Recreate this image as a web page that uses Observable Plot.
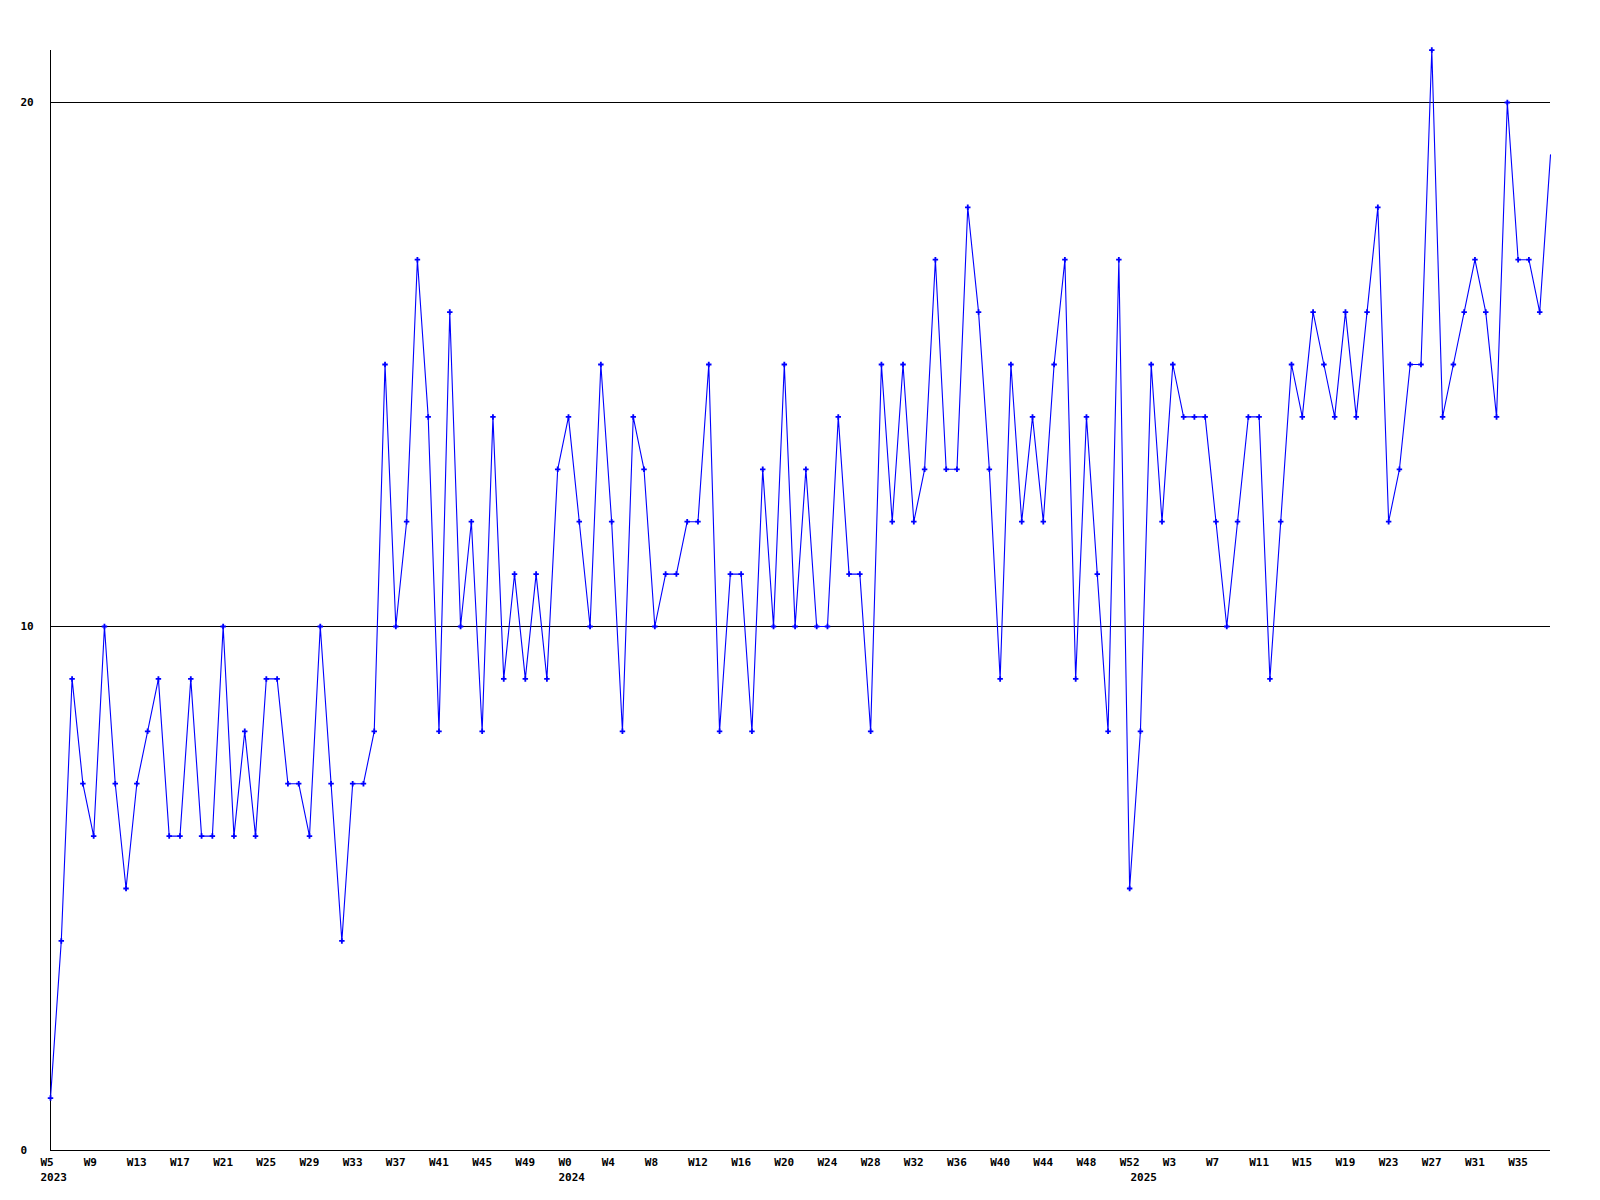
<!DOCTYPE html>
<html>
<head>
<meta charset="utf-8">
<script src="https://cdn.jsdelivr.net/npm/d3@7"></script>
<script src="https://cdn.jsdelivr.net/npm/@observablehq/plot@0.6"></script>
<style>
  html, body { margin: 0; padding: 0; background: #ffffff; }
  #chart svg { display: block; }
</style>
</head>
<body>
<div id="chart"></div>
<script>
// ---- data ----
const weeks2023 = [5,6,7,8,9,10,11,12,13,14,15,16,17,18,19,20,21,22,23,24,25,26,27,28,29,30,31,32,33,34,35,36,37,38,39,40,41,42,43,44,45,46,47,48,49,50,51,52];
const values2023 = [1,4,9,7,6,10,7,5,7,8,9,6,6,9,6,6,10,6,8,6,9,9,7,7,6,10,7,4,7,7,8,15,10,12,17,14,8,16,10,12,8,14,9,11,9,11,9,13];

const weeks2024 = [0,1,2,3,4,5,6,7,8,9,10,11,12,13,14,15,16,17,18,19,20,21,22,23,24,25,26,27,28,29,30,31,32,33,34,35,36,37,38,39,40,41,42,43,44,45,46,47,48,49,50,51,52];
const values2024 = [14,12,10,15,12,8,14,13,10,11,11,12,12,15,8,11,11,8,13,10,15,10,13,10,10,14,11,11,8,15,12,15,12,13,17,13,13,18,16,13,9,15,12,14,12,15,17,9,14,11,8,17,5];

const weeks2025 = [0,1,2,3,4,5,6,7,8,9,10,11,12,13,14,15,16,17,18,19,20,21,22,23,24,25,26,27,28,29,30,31,32,33,34,35,36,37,38];
const values2025 = [8,15,12,15,14,14,14,12,10,12,14,14,9,12,15,14,16,15,14,16,14,16,18,12,13,15,15,21,14,15,16,17,16,14,20,17,17,16,19];

// tick labels shown on the x axis
const tickLabels = [
  "2023-W5","2023-W9","2023-W13","2023-W17","2023-W21","2023-W25","2023-W29","2023-W33","2023-W37","2023-W41","2023-W45","2023-W49",
  "2024-W0","2024-W4","2024-W8","2024-W12","2024-W16","2024-W20","2024-W24","2024-W28","2024-W32","2024-W36","2024-W40","2024-W44","2024-W48","2024-W52",
  "2025-W3","2025-W7","2025-W11","2025-W15","2025-W19","2025-W23","2025-W27","2025-W31","2025-W35"
];
// year labels at the first week of each year
const yearLabels = [
  {key: "2023-W5", year: "2023"},
  {key: "2024-W0", year: "2024"},
  {key: "2025-W0", year: "2025"}
];
const yTicks = [0, 10, 20];

// ---- table built from the arrays ----
const rows = [];
weeks2023.forEach((w, i) => rows.push({key: `2023-W${w}`, value: values2023[i]}));
weeks2024.forEach((w, i) => rows.push({key: `2024-W${w}`, value: values2024[i]}));
weeks2025.forEach((w, i) => rows.push({key: `2025-W${w}`, value: values2025[i]}));
const keys = rows.map(d => d.key);

const font = "'DejaVu Sans Mono', 'Liberation Mono', monospace";

const chart = Plot.plot({
  width: 1600,
  height: 1200,
  marginLeft: 50,
  marginRight: 50,
  marginTop: 49.6,
  marginBottom: 50,
  style: {background: "#ffffff", fontFamily: font, fontSize: "11px", fontWeight: "bold"},
  x: {type: "point", domain: keys, padding: 0, axis: null},
  y: {type: "linear", domain: [0, 21], axis: null},
  marks: [
    Plot.ruleY(yTicks, {stroke: "#000000", strokeWidth: 1, shapeRendering: "crispEdges"}),
    Plot.ruleX([keys[0]], {y1: 0, y2: 21, stroke: "#000000", strokeWidth: 1, shapeRendering: "crispEdges"}),
    Plot.line(rows, {x: "key", y: "value", stroke: "#0000ff", strokeWidth: 1.1}),
    Plot.dot(rows.slice(0, rows.length - 1), {x: "key", y: "value", symbol: "cross", r: 2.3, fill: "#0000ff", stroke: "none"}),
    Plot.text(yTicks, {y: d => d, frameAnchor: "left", dx: -30, textAnchor: "start", lineAnchor: "middle", text: d => String(d), fill: "#000000"}),
    Plot.text(tickLabels, {x: d => d, frameAnchor: "bottom", dy: 12, dx: -10, textAnchor: "start", lineAnchor: "middle", text: d => d.split("-")[1], fill: "#000000"}),
    Plot.text(yearLabels, {x: "key", frameAnchor: "bottom", dy: 27, dx: -10, textAnchor: "start", lineAnchor: "middle", text: "year", fill: "#000000"})
  ]
});
document.getElementById("chart").appendChild(chart);
</script>
</body>
</html>
